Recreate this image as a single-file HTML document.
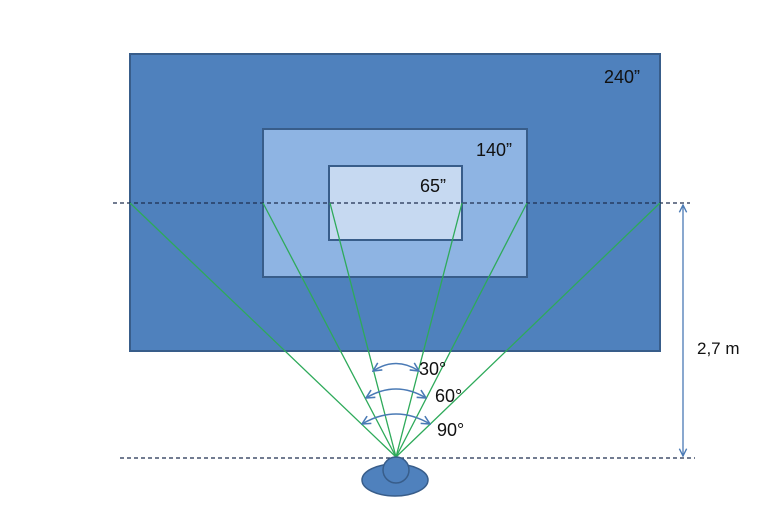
<!DOCTYPE html>
<html><head><meta charset="utf-8"><style>
html,body{margin:0;padding:0;background:#fff;}
svg{display:block;}
text{font-family:"Liberation Sans",sans-serif;}
</style></head><body>
<svg width="770" height="513" viewBox="0 0 770 513" xmlns="http://www.w3.org/2000/svg">
<defs>
<marker id="ah" viewBox="0 0 10 10" refX="9" refY="5" markerWidth="7" markerHeight="7" orient="auto-start-reverse">
<path d="M1,1 L9,5 L1,9" fill="none" stroke="#4a7ab5" stroke-width="1.5"/>
</marker>
</defs>
<rect x="130" y="54" width="530" height="297" fill="#4f81bd" stroke="#385d8a" stroke-width="2"/>
<rect x="263" y="129" width="264" height="148" fill="#8eb4e3" stroke="#385d8a" stroke-width="2"/>
<rect x="329" y="166" width="133" height="74" fill="#c6d9f1" stroke="#385d8a" stroke-width="2"/>
<text x="604" y="83" font-size="18" fill="#111">240”</text>
<text x="476" y="156" font-size="18" fill="#111">140”</text>
<text x="420" y="192" font-size="18" fill="#111">65”</text>
<line x1="113" y1="203" x2="690" y2="203" stroke="#1f2f4f" stroke-width="1.3" stroke-dasharray="4,3"/>
<line x1="120" y1="458" x2="695" y2="458" stroke="#1f2f4f" stroke-width="1.3" stroke-dasharray="4,3"/>
<g stroke="#2eaa5a" stroke-width="1.3">
<line x1="396" y1="457" x2="130" y2="203"/>
<line x1="396" y1="457" x2="263" y2="203"/>
<line x1="396" y1="457" x2="330" y2="203"/>
<line x1="396" y1="457" x2="462" y2="203"/>
<line x1="396" y1="457" x2="527" y2="203"/>
<line x1="396" y1="457" x2="660" y2="203"/>
</g>
<line x1="683" y1="205" x2="683" y2="456" stroke="#4a7ab5" stroke-width="1.3" marker-start="url(#ah)" marker-end="url(#ah)"/>
<text x="697" y="354" font-size="17" fill="#111">2,7 m</text>
<g fill="none" stroke="#4a7ab5" stroke-width="1.5">
<path d="M373,371 Q396,356 419,371" marker-start="url(#ah)" marker-end="url(#ah)"/>
<path d="M366,398 Q396,380 426,398" marker-start="url(#ah)" marker-end="url(#ah)"/>
<path d="M362,424 Q396,404 430,424" marker-start="url(#ah)" marker-end="url(#ah)"/>
</g>
<text x="419" y="375" font-size="18" fill="#111">30°</text>
<text x="435" y="402" font-size="18" fill="#111">60°</text>
<text x="437" y="436" font-size="18" fill="#111">90°</text>
<ellipse cx="395" cy="480" rx="33" ry="16" fill="#4f81bd" stroke="#385d8a" stroke-width="1.5"/>
<circle cx="396" cy="470" r="13" fill="#4f81bd" stroke="#385d8a" stroke-width="1.5"/>
</svg>
</body></html>
